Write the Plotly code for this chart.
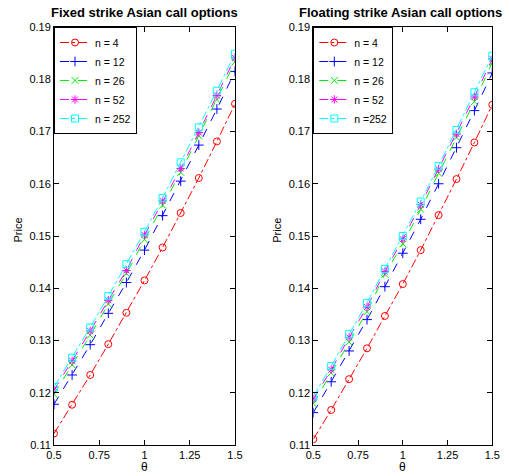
import plotly.graph_objects as go

theta = [0.5, 0.6, 0.7, 0.8, 0.9, 1.0, 1.1, 1.2, 1.3, 1.4, 1.5]

# Fixed strike Asian call option prices
fixed_n4   = [0.1122, 0.1177, 0.1234, 0.1293, 0.1353, 0.1415, 0.1478, 0.1544, 0.1611, 0.1681, 0.1753]
fixed_n12  = [0.1178, 0.1234, 0.1292, 0.1352, 0.1411, 0.1473, 0.1539, 0.1605, 0.1674, 0.1743, 0.1815]
fixed_n26  = [0.1197, 0.1253, 0.1310, 0.1370, 0.1428, 0.1493, 0.1559, 0.1622, 0.1692, 0.1761, 0.1833]
fixed_n52  = [0.1205, 0.1261, 0.1318, 0.1377, 0.1434, 0.1502, 0.1567, 0.1629, 0.1698, 0.1769, 0.1841]
fixed_n252 = [0.1211, 0.1267, 0.1325, 0.1385, 0.1446, 0.1508, 0.1573, 0.1641, 0.1708, 0.1778, 0.1849]

# Floating strike Asian call option prices
float_n4   = [0.1111, 0.1167, 0.1226, 0.1285, 0.1347, 0.1408, 0.1473, 0.1540, 0.1609, 0.1679, 0.1751]
float_n12  = [0.1162, 0.1221, 0.1280, 0.1340, 0.1403, 0.1467, 0.1532, 0.1600, 0.1669, 0.1740, 0.1812]
float_n26  = [0.1179, 0.1238, 0.1297, 0.1355, 0.1427, 0.1485, 0.1551, 0.1620, 0.1689, 0.1757, 0.1832]
float_n52  = [0.1188, 0.1244, 0.1306, 0.1364, 0.1432, 0.1494, 0.1560, 0.1628, 0.1695, 0.1766, 0.1839]
float_n252 = [0.1193, 0.1251, 0.1312, 0.1372, 0.1437, 0.1500, 0.1566, 0.1634, 0.1703, 0.1775, 0.1845]

fixed_labels = ["n = 4", "n = 12", "n = 26", "n = 52", "n = 252"]
float_labels = ["n = 4", "n = 12", "n = 26", "n = 52", "n =252"]

y_ticks = [0.11, 0.12, 0.13, 0.14, 0.15, 0.16, 0.17, 0.18, 0.19]
x_ticks = [0.5, 0.75, 1, 1.25, 1.5]
x_tick_text = ["0.5", "0.75", "1", "1.25", "1.5"]

styles = [
    ("red", "circle-open", "dashdot"),
    ("blue", "cross-thin-open", "dash"),
    ("#00ee00", "x-thin-open", "dash"),
    ("magenta", "asterisk-open", "dash"),
    ("cyan", "square-open", "dashdot"),
]

fig = go.Figure()

fixed_series = [fixed_n4, fixed_n12, fixed_n26, fixed_n52, fixed_n252]
float_series = [float_n4, float_n12, float_n26, float_n52, float_n252]

for vals, lab, (col, sym, dash) in zip(fixed_series, fixed_labels, styles):
    fig.add_trace(go.Scatter(
        x=theta, y=vals, name=lab, mode="lines+markers",
        line=dict(color=col, width=1, dash=dash),
        marker=dict(symbol=sym, size=7, color=col, line=dict(width=1, color=col)),
        xaxis="x", yaxis="y", legend="legend"))

for vals, lab, (col, sym, dash) in zip(float_series, float_labels, styles):
    fig.add_trace(go.Scatter(
        x=theta, y=vals, name=lab, mode="lines+markers",
        line=dict(color=col, width=1, dash=dash),
        marker=dict(symbol=sym, size=7, color=col, line=dict(width=1, color=col)),
        xaxis="x2", yaxis="y2", legend="legend2"))

W, H = 509, 476
ydom = [(H - 445) / H, (H - 27) / H]
L1, R1 = 54, 235
L2, R2 = 313.3, 492.3

axis_common = dict(
    showline=True, linecolor="black", linewidth=1, mirror="ticks", automargin=False,
    ticks="inside", ticklen=5, tickcolor="black", showgrid=False, zeroline=False,
    tickfont=dict(family="Liberation Sans, Arial", size=11, color="black"),
)

legend_common = dict(
    yanchor="top", xanchor="left", bgcolor="white", bordercolor="black", borderwidth=1,
    font=dict(size=10.5), tracegroupgap=0, itemwidth=30,
)

def ann(text, x, y, size, angle=0):
    return dict(text=text, x=x / W, y=(H - y) / H, xref="paper", yref="paper", showarrow=False,
                font=dict(size=size, color="black"), xanchor="center", yanchor="middle", textangle=angle)

fig.update_layout(
    template="none",
    width=W, height=H, autosize=False,
    margin=dict(l=0, r=0, t=0, b=0, pad=0),
    paper_bgcolor="white", plot_bgcolor="white",
    font=dict(family="Liberation Sans, Arial", size=11, color="black"),
    xaxis=dict(domain=[L1 / W, R1 / W], range=[0.5, 1.5], tickvals=x_ticks, ticktext=x_tick_text,
               anchor="y", **axis_common),
    yaxis=dict(domain=ydom, range=[0.11, 0.19], tickvals=y_ticks, tickformat=".2f",
               anchor="x", **axis_common),
    xaxis2=dict(domain=[L2 / W, R2 / W], range=[0.5, 1.5], tickvals=x_ticks, ticktext=x_tick_text,
                anchor="y2", **axis_common),
    yaxis2=dict(domain=ydom, range=[0.11, 0.19], tickvals=y_ticks, tickformat=".2f",
                anchor="x2", **axis_common),
    legend=dict(x=L1 / W, y=ydom[1], **legend_common),
    legend2=dict(x=L2 / W, y=ydom[1], **legend_common),
    annotations=[
        ann("<b>Fixed strike Asian call options</b>", (L1 + R1) / 2, 12, 13),
        ann("<b>Floating strike Asian call options</b>", (L2 + R2) / 2 - 2, 12, 13),
        ann("θ", (L1 + R1) / 2, 467, 12),
        ann("θ", (L2 + R2) / 2, 467, 12),
        ann("Price", L1 - 36.5, 230, 11, -90),
        ann("Price", L2 - 36.5, 230, 11, -90),
    ],
)

fig.write_html(
    "out.html",
    config={"displayModeBar": False},
    post_script="document.body.style.margin='0';document.body.style.overflow='hidden';",
)
